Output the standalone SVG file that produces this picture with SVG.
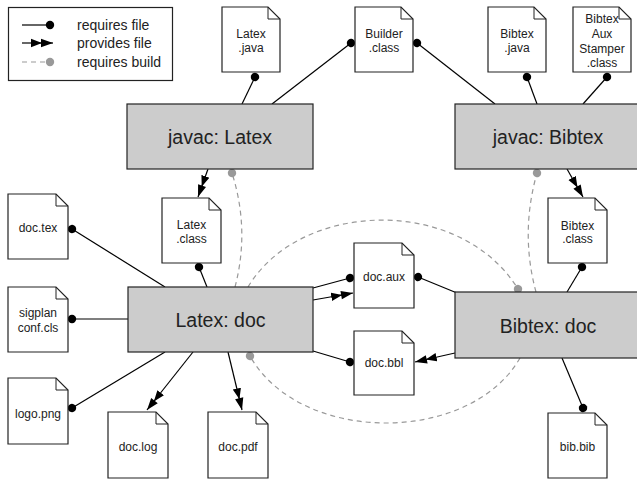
<svg xmlns="http://www.w3.org/2000/svg" width="637" height="484" viewBox="0 0 637 484">
<style>
text{font-family:"Liberation Sans",Arial,Helvetica,sans-serif;fill:#222;text-anchor:middle}
.ft{font-size:12px}
.nt{font-size:19.5px}
.lt{font-size:14px;text-anchor:start}
.file{fill:#fff;stroke:#222;stroke-width:1.2}
.fold{fill:none;stroke:#222;stroke-width:1}
.box{fill:#cccccc;stroke:#222;stroke-width:1.2}
.req{fill:none;stroke:#000;stroke-width:1.2;marker-end:url(#dot)}
.prov{fill:none;stroke:#000;stroke-width:1.2;marker-end:url(#arr)}
.bld{fill:none;stroke:#999;stroke-width:1.2;stroke-dasharray:5,4;marker-end:url(#gdot)}
</style>
<defs>
<marker id="dot" markerUnits="userSpaceOnUse" markerWidth="10" markerHeight="10" viewBox="0 0 10 10" refX="5" refY="5" orient="auto"><circle cx="5" cy="5" r="4.2" fill="#000"/></marker>
<marker id="gdot" markerUnits="userSpaceOnUse" markerWidth="10" markerHeight="10" viewBox="0 0 10 10" refX="5" refY="5" orient="auto"><circle cx="5" cy="5" r="4.2" fill="#999"/></marker>
<marker id="arr" markerUnits="userSpaceOnUse" markerWidth="22" markerHeight="10" viewBox="0 0 22 10" refX="22" refY="5" orient="auto"><path d="M0,0.8 L11,5 L0,9.2 Z M10,0.8 L22,5 L10,9.2 Z" fill="#000"/></marker>
</defs>

<g id="legend">
<rect x="8.5" y="7.5" width="164" height="73" fill="#fff" stroke="#222" stroke-width="1.2"/>
<path d="M22,25 H50" class="req"/>
<path d="M22,43 H53" class="prov"/>
<path d="M22,62 H50" class="bld"/>
<text class="lt" x="77" y="30">requires file</text>
<text class="lt" x="77" y="48">provides file</text>
<text class="lt" x="77" y="67">requires build</text>
</g>

<g id="connectors">
<path class="req" d="M242,104 L255,77"/>
<path class="req" d="M272,104 L351,43"/>
<path class="req" d="M495,104 L417,43"/>
<path class="req" d="M537,104 L527,77"/>
<path class="req" d="M583,104 L607,77"/>
<path class="req" d="M207,287 L199,267"/>
<path class="req" d="M165,287 L72,229"/>
<path class="req" d="M128,319 L72,319"/>
<path class="req" d="M165,352 L72,408"/>
<path class="req" d="M313,288 L350,278"/>
<path class="req" d="M313,351 L350,362"/>
<path class="req" d="M457,293 L418,277"/>
<path class="req" d="M567,292 L582,267"/>
<path class="req" d="M562,358 L583,408"/>
<path class="prov" d="M208,169 L198,197"/>
<path class="prov" d="M567,169 L583,197"/>
<path class="prov" d="M313,300 L353,293"/>
<path class="prov" d="M193,352 L147,410"/>
<path class="prov" d="M228,352 L242,410"/>
<path class="prov" d="M455,353 L415,362"/>
<path class="bld" d="M235,287 Q250,230 232,173"/>
<path class="bld" d="M536,292 Q520,233 537,173"/>
<path class="bld" d="M248,287 C300,200 460,195 518,289"/>
<path class="bld" d="M520,358 C470,445 300,445 250,356"/>
</g>

<g id="latex-java"><path class="file" d="M222,7 H268 L280,19 V72 H222 Z"/><path class="fold" d="M268,7 V19 H280"/><text class="ft" x="251" y="37.5">Latex</text><text class="ft" x="251" y="51.5">.java</text></g>
<g id="builder-class"><path class="file" d="M355,7 H401 L413,19 V72 H355 Z"/><path class="fold" d="M401,7 V19 H413"/><text class="ft" x="384" y="37.5">Builder</text><text class="ft" x="384" y="51.5">.class</text></g>
<g id="bibtex-java"><path class="file" d="M488,7 H534 L546,19 V72 H488 Z"/><path class="fold" d="M534,7 V19 H546"/><text class="ft" x="517" y="37.5">Bibtex</text><text class="ft" x="517" y="51.5">.java</text></g>
<g id="bibtex-aux-stamper"><path class="file" d="M573,7 H619 L631,19 V72 H573 Z"/><path class="fold" d="M619,7 V19 H631"/><text class="ft" x="602" y="22.5">Bibtex</text><text class="ft" x="602" y="37.5">Aux</text><text class="ft" x="602" y="52.5">Stamper</text><text class="ft" x="602" y="67">.class</text></g>

<g id="javac-latex"><rect class="box" x="127" y="104" width="186" height="65"/><text class="nt" x="220" y="144">javac: Latex</text></g>
<g id="javac-bibtex"><rect class="box" x="455" y="104" width="186" height="65"/><text class="nt" x="548" y="144">javac: Bibtex</text></g>

<g id="latex-class"><path class="file" d="M162,198 H209 L221,210 V263 H162 Z"/><path class="fold" d="M209,198 V210 H221"/><text class="ft" x="191.5" y="229">Latex</text><text class="ft" x="191.5" y="243">.class</text></g>
<g id="bibtex-class"><path class="file" d="M548,198 H595 L607,210 V263 H548 Z"/><path class="fold" d="M595,198 V210 H607"/><text class="ft" x="577.5" y="229.5">Bibtex</text><text class="ft" x="577.5" y="243">.class</text></g>

<g id="doc-tex"><path class="file" d="M8,194 H56 L68,206 V259 H8 Z"/><path class="fold" d="M56,194 V206 H68"/><text class="ft" x="38" y="232">doc.tex</text></g>
<g id="sigplan-conf"><path class="file" d="M8,287 H56 L68,299 V352 H8 Z"/><path class="fold" d="M56,287 V299 H68"/><text class="ft" x="38" y="317">sigplan</text><text class="ft" x="38" y="332">conf.cls</text></g>
<g id="logo-png"><path class="file" d="M8,378 H56 L68,390 V444 H8 Z"/><path class="fold" d="M56,378 V390 H68"/><text class="ft" x="38" y="418">logo.png</text></g>

<g id="latex-doc"><rect class="box" x="128" y="287" width="185" height="65"/><text class="nt" x="220.5" y="327">Latex: doc</text></g>
<g id="bibtex-doc"><rect class="box" x="455" y="292" width="186" height="66"/><text class="nt" x="548" y="333">Bibtex: doc</text></g>

<g id="doc-aux"><path class="file" d="M354,243 H402 L414,255 V308 H354 Z"/><path class="fold" d="M402,243 V255 H414"/><text class="ft" x="384" y="281">doc.aux</text></g>
<g id="doc-bbl"><path class="file" d="M354,331 H402 L414,343 V395 H354 Z"/><path class="fold" d="M402,331 V343 H414"/><text class="ft" x="384" y="367">doc.bbl</text></g>
<g id="doc-log"><path class="file" d="M108,412 H156 L168,424 V478 H108 Z"/><path class="fold" d="M156,412 V424 H168"/><text class="ft" x="138" y="451">doc.log</text></g>
<g id="doc-pdf"><path class="file" d="M208,412 H256 L268,424 V478 H208 Z"/><path class="fold" d="M256,412 V424 H268"/><text class="ft" x="238" y="451">doc.pdf</text></g>
<g id="bib-bib"><path class="file" d="M548,413 H595 L607,425 V478 H548 Z"/><path class="fold" d="M595,413 V425 H607"/><text class="ft" x="577.5" y="451">bib.bib</text></g>
</svg>
